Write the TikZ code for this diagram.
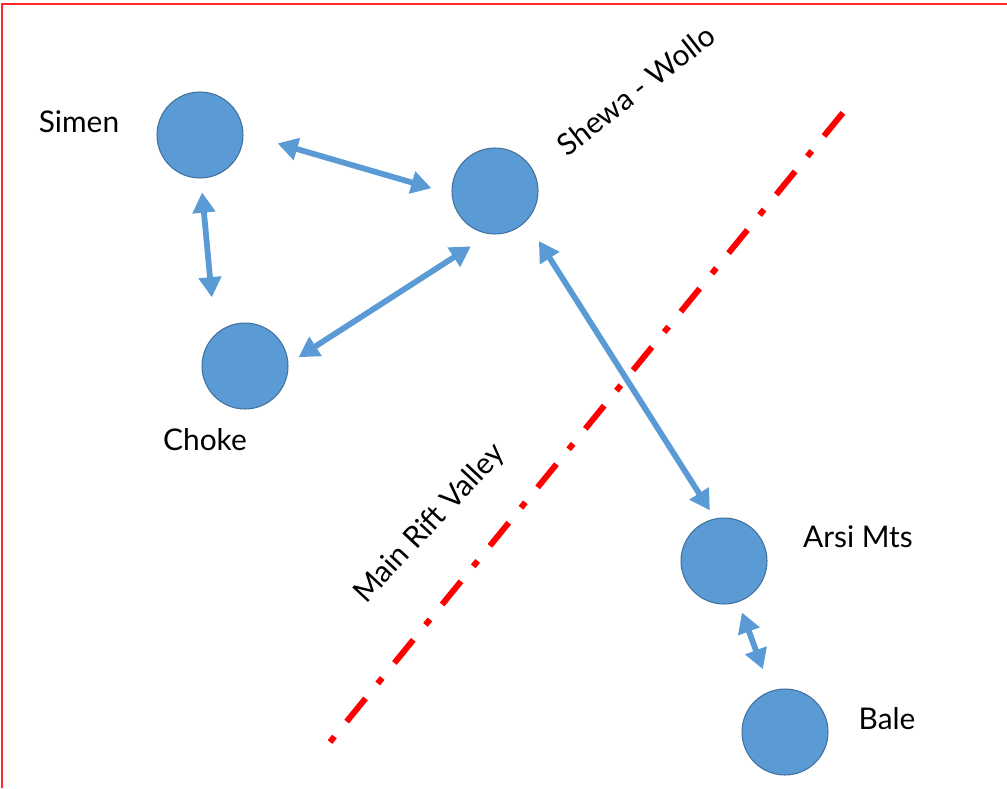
\documentclass[tikz,border=0pt]{standalone}
\usepackage{fontspec}
\setmainfont{Lato}
\usetikzlibrary{arrows.meta}
\definecolor{siteblue}{HTML}{5B9BD5}
\definecolor{siteedge}{HTML}{41719C}
\tikzset{
    sitenode/.style = {circle, draw=siteedge, line width=0.6pt, fill=siteblue, minimum size=1.72cm, inner sep=0pt},
    sitelabel/.style = {font=\fontsize{17}{20}\selectfont, text=black, inner sep=0pt},
    edgeb/.style = {{Triangle[length=11.5pt,width=12.5pt]}-{Triangle[length=11.5pt,width=12.5pt]}, line width=3.3pt, siteblue},
    rift/.style = {-, line width=3.4pt, red, dash pattern=on 4pt off 11pt on 17pt off 11pt}, % main rift
    frame/.style = {-, line width=1.2pt, red!85}
}

\begin{document}
\begin{tikzpicture}[x=0.02cm,y=-0.02cm]
\path[use as bounding box] (0,0) rectangle (1007,788);
\draw[frame] (1007,4) -- (2,4) -- (2,788);
%
\node[sitenode] at (200,135) (simen) {};
\node[sitenode] at (495,191) (shewa) {};
\node[sitenode] at (245,366) (choke) {};
\node[sitenode] at (724,561) (arsi) {};
\node[sitenode] at (785,732) (bale) {};
%
\node[sitelabel] at (79,122) (simenlbl) {Simen};
\node[sitelabel, rotate=38] at (636,90) (shewalbl) {Shewa - Wollo};
\node[sitelabel] at (205,440) (chokelbl) {Choke};
\node[sitelabel] at (858,537) (arsilbl) {Arsi Mts};
\node[sitelabel] at (887,719) (balelbl) {Bale};
\node[sitelabel, rotate=47] at (430,524) (riftlbl) {Main Rift Valley};
%
\coordinate (rifta) at (330,742);
\coordinate (riftb) at (846,109);
\draw[rift] (rifta) -- (riftb);
%
\draw[edgeb, shorten <=0.71cm, shorten >=0.42cm] (simen.2) -- (shewa.184);
\draw[edgeb, shorten <=0.28cm, shorten >=0.74cm] (simen.-89) -- (choke.133);
\draw[edgeb, shorten <=0.24cm, shorten >=0.45cm] (choke.3) -- (shewa.263);
\draw[edgeb, shorten <=0.47cm, shorten >=0.19cm] (shewa.-44) -- (arsi.102);
\draw[edgeb, shorten <=0.22cm, shorten >=0.46cm] (arsi.-71) -- (bale.109);
\end{tikzpicture}
\end{document}
